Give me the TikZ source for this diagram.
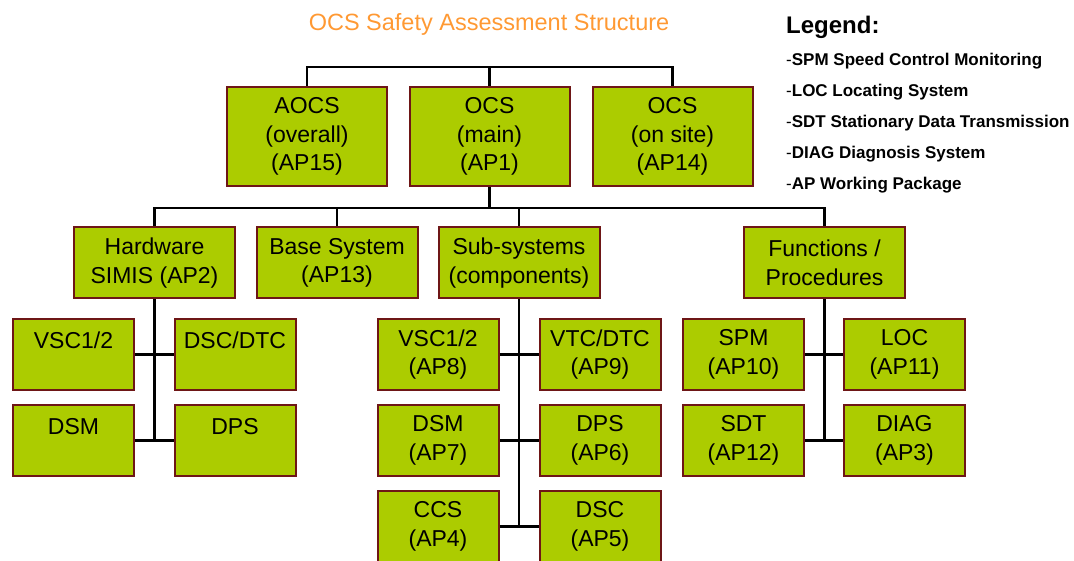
\documentclass[tikz,border=0pt]{standalone}
\usepackage{fontspec}
\setmainfont{Liberation Sans}
\definecolor{boxfill}{RGB}{172,204,0}
\definecolor{boxline}{RGB}{110,22,22}
\definecolor{titleorange}{RGB}{255,153,51}

\begin{document}
\begin{tikzpicture}[x=1pt,y=-1pt,
   every node/.style={align=center},
   unit/.style={draw=boxline,fill=boxfill,line width=2pt,inner sep=0pt,
      font=\fontsize{23}{28.5}\selectfont},
   topunit/.style={unit,minimum width=160pt,minimum height=99pt},
   midunit/.style={unit,minimum width=161pt,minimum height=71pt},
   leafunit/.style={unit,minimum width=121pt,minimum height=71pt},
   legenditem/.style={anchor=west,inner sep=0pt,font=\fontsize{17}{20}\selectfont},
   link/.style={line width=2.6pt,black}]
\useasboundingbox (0,0) rectangle (1074,561);

% title and legend
\node[text=titleorange,font=\fontsize{23.5}{28}\selectfont] (title) at (489,24) {OCS Safety Assessment Structure};
\node[anchor=west,inner sep=0pt,font=\fontsize{24}{28}\selectfont\bfseries] (legend) at (786,27) {Legend:};
\node[legenditem] (leg1) at (786,61) {-\textbf{SPM Speed Control Monitoring}};
\node[legenditem] (leg2) at (786,92) {-\textbf{LOC Locating System}};
\node[legenditem] (leg3) at (786,123) {-\textbf{SDT Stationary Data Transmission}};
\node[legenditem] (leg4) at (786,154) {-\textbf{DIAG Diagnosis System}};
\node[legenditem] (leg5) at (786,185) {-\textbf{AP Working Package}};

% top row
\node[topunit] (aocs) at (307,136.5) {AOCS\\(overall)\\(AP15)};
\node[topunit] (ocsmain) at (489.5,136.5) {OCS\\(main)\\(AP1)};
\node[topunit] (ocssite) at (672.5,136.5) {OCS\\(on site)\\(AP14)};
\coordinate (topbus) at (489.5,67);
\coordinate (midbus) at (489.5,208);

% second row
\node[midunit] (hw) at (154.5,263) {Hardware\\SIMIS (AP2)};
\node[midunit] (basesys) at (337,263) {Base System\\(AP13)};
\node[midunit] (subsys) at (519,263) {Sub-systems\\(components)};
\node[midunit] (func) at (824.5,263) {Functions /\\Procedures};

% hardware
\node[leafunit] (hwvsc) at (73.5,354.5) {VSC1/2\\\mbox{}};
\node[leafunit] (hwdsc) at (235,354.5) {DSC/DTC\\\mbox{}};
\node[leafunit] (hwdsm) at (73.5,440.5) {DSM\\\mbox{}};
\node[leafunit] (hwdps) at (235,440.5) {DPS\\\mbox{}};

% sub-systems
\node[leafunit] (ssvsc) at (438,354.5) {VSC1/2\\(AP8)};
\node[leafunit] (ssvtc) at (600,354.5) {VTC/DTC\\(AP9)};
\node[leafunit] (ssdsm) at (438,440.5) {DSM\\(AP7)};
\node[leafunit] (ssdps) at (600,440.5) {DPS\\(AP6)};
\node[leafunit] (ssccs) at (438,526.5) {CCS\\(AP4)};
\node[leafunit] (ssdsc) at (600,526.5) {DSC\\(AP5)};

% functions
\node[leafunit] (fspm) at (743.5,354.5) {SPM\\(AP10)};
\node[leafunit] (floc) at (904.5,354.5) {LOC\\(AP11)};
\node[leafunit] (fsdt) at (743.5,440.5) {SDT\\(AP12)};
\node[leafunit] (fdiag) at (904.5,440.5) {DIAG\\(AP3)};

% connectors
\draw[link] (aocs.north) |- (topbus) -| (ocssite.north);
\draw[link] (ocsmain.north) -- (topbus);
\draw[link] (ocsmain.south) -- (midbus);
\draw[link] (hw.north) |- (midbus) -| (func.north);
\draw[link] (basesys.north) |- (midbus);
\draw[link] (subsys.north) |- (midbus);

\draw[link] (hw.south) -- (hw.south |- hwdsm.east);
\draw[link] (hwvsc.east) -- (hwdsc.west);
\draw[link] (hwdsm.east) -- (hwdps.west);

\draw[link] (subsys.south) -- (subsys.south |- ssccs.east);
\draw[link] (ssvsc.east) -- (ssvtc.west);
\draw[link] (ssdsm.east) -- (ssdps.west);
\draw[link] (ssccs.east) -- (ssdsc.west);

\draw[link] (func.south) -- (func.south |- fsdt.east);
\draw[link] (fspm.east) -- (floc.west);
\draw[link] (fsdt.east) -- (fdiag.west);
\end{tikzpicture}
\end{document}
